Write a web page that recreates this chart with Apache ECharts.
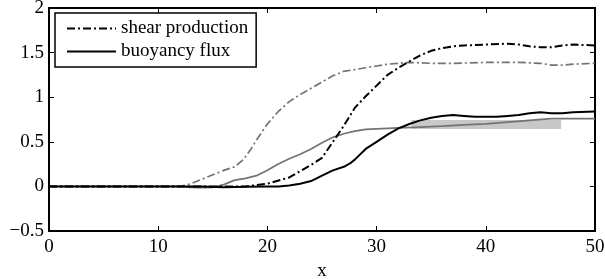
<!DOCTYPE html>
<html>
<head>
<meta charset="utf-8">
<script src="https://cdn.jsdelivr.net/npm/echarts@6/dist/echarts.min.js"></script>
<style>
  html, body { margin: 0; padding: 0; background: #fff; }
  #main { width: 605px; height: 279px; }
</style>
</head>
<body>
<div id="main"></div>
<script>
// data: [x, value]
var shearA = [[0,0],[14,0],[16,0],[18,0],[20,0.03],[22,0.1],[23,0.17],[24,0.24],[25,0.32],[26,0.5],[27,0.68],[28,0.88],[29,1.01],[30,1.13],[31,1.25],[32,1.33],[33,1.40],[34,1.47],[35,1.52],[36,1.55],[37,1.57],[38,1.58],[40,1.59],[42,1.60],[43,1.59],[44,1.57],[45,1.56],[46,1.56],[47,1.58],[48,1.59],[50,1.58]];
var shearB = [[0,0],[12,0],[13,0.03],[14,0.08],[15,0.13],[16,0.18],[17,0.22],[17.8,0.3],[18.5,0.42],[19,0.52],[20,0.7],[21,0.84],[22,0.95],[23,1.03],[24,1.1],[25,1.17],[26,1.24],[27,1.29],[28,1.31],[29,1.33],[30,1.35],[31,1.37],[32,1.38],[33,1.39],[35,1.38],[37,1.38],[40,1.39],[43,1.39],[45,1.38],[46,1.36],[47,1.36],[48,1.37],[50,1.38]];
var buoyA = [[0,0],[14,0],[16,-0.01],[18,-0.005],[20,0],[21,0],[22,0.01],[23,0.03],[24,0.06],[25,0.12],[26,0.18],[27,0.22],[27.6,0.26],[28,0.3],[29,0.42],[30,0.5],[31,0.58],[32,0.65],[33,0.7],[34,0.74],[35,0.77],[36,0.79],[37,0.8],[38,0.79],[39,0.78],[40,0.78],[41,0.78],[42,0.79],[43,0.8],[44,0.82],[45,0.83],[46,0.82],[47,0.82],[48,0.83],[50,0.84]];
var buoyB = [[0,0],[12,0],[13,-0.01],[14,-0.015],[15,-0.01],[16,0.02],[17,0.07],[18,0.09],[19,0.12],[20,0.18],[21,0.25],[22,0.31],[23,0.36],[24,0.42],[25,0.49],[26,0.55],[27,0.59],[28,0.62],[29,0.64],[30,0.645],[31,0.65],[32,0.655],[34,0.665],[36,0.675],[38,0.69],[40,0.7],[42,0.72],[44,0.74],[46,0.76],[48,0.76],[50,0.76]];
var band = [[33.2,0.695],[46.9,0.695]];
var legendNames = ['shear production', 'buoyancy flux'];

var font = 'Liberation Serif';
var dashDot = [8, 3, 2, 3];

var myChart = echarts.init(document.getElementById('main'));

function axisBase(extra) {
    var a = {
        axisLine: { show: true, onZero: false, lineStyle: { color: '#000', width: 2 } },
        axisTick: { show: true, inside: true, length: 5, lineStyle: { color: '#000', width: 1 } },
        splitLine: { show: false },
        axisLabel: { show: false }
    };
    for (var k in extra) a[k] = extra[k];
    return a;
}

var option = {
    animation: false,
    backgroundColor: '#fff',
    grid: { left: 49, right: 10, top: 8, bottom: 48, outerBoundsMode: 'none', containLabel: false },
    legend: {
        data: legendNames,
        orient: 'vertical',
        left: 55,
        top: 13,
        width: 202,
        padding: [6, 8, 6, 11],
        itemGap: 4,
        itemWidth: 49,
        itemHeight: 14,
        borderColor: '#000',
        borderWidth: 1.5,
        backgroundColor: '#fff',
        itemStyle: { opacity: 0 },
        textStyle: { fontFamily: font, fontSize: 19, color: '#000' }
    },
    xAxis: [
        axisBase({
            type: 'value', min: 0, max: 50, interval: 10, position: 'bottom',
            name: 'x', nameLocation: 'middle', nameGap: 27,
            nameTextStyle: { fontFamily: font, fontSize: 19, color: '#000' },
            axisLabel: { show: true, margin: 7, fontFamily: font, fontSize: 19, color: '#000' }
        }),
        axisBase({ type: 'value', min: 0, max: 50, interval: 10, position: 'top' })
    ],
    yAxis: [
        axisBase({
            type: 'value', min: -0.5, max: 2, interval: 0.5, position: 'left',
            axisLabel: {
                show: true, margin: 5, fontFamily: font, fontSize: 19, color: '#000',
                formatter: function (v) { return String(v).replace('-', '\u2212'); }
            }
        }),
        axisBase({ type: 'value', min: -0.5, max: 2, interval: 0.5, position: 'right' })
    ],
    series: [
        {
            name: 'band', type: 'line', data: band, symbol: 'none', z: 1,
            lineStyle: { color: '#c8c8c8', width: 9, cap: 'butt' }
        },
        {
            name: 'shear B', type: 'line', data: shearB, symbol: 'none', z: 2,
            lineStyle: { color: '#737373', width: 1.7, type: dashDot }
        },
        {
            name: 'buoyancy B', type: 'line', data: buoyB, symbol: 'none', z: 2,
            lineStyle: { color: '#737373', width: 1.7 }
        },
        {
            name: 'shear production', type: 'line', data: shearA, symbol: 'none', z: 3,
            itemStyle: { color: '#000' },
            lineStyle: { color: '#000', width: 2, type: dashDot }
        },
        {
            name: 'buoyancy flux', type: 'line', data: buoyA, symbol: 'none', z: 3,
            itemStyle: { color: '#000' },
            lineStyle: { color: '#000', width: 2 }
        }
    ]
};

myChart.setOption(option);
</script>
</body>
</html>
